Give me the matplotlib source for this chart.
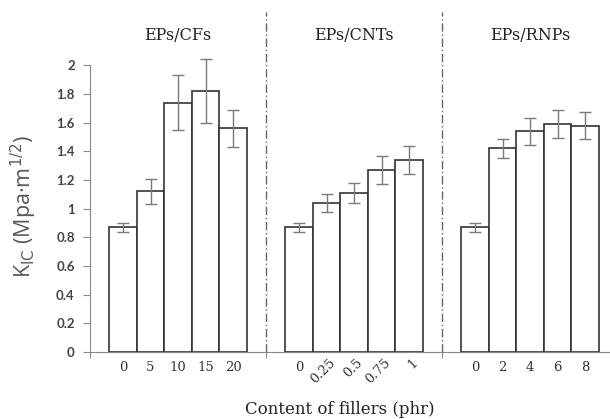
import matplotlib.pyplot as plt

# Data
groups = ["EPs/CFs", "EPs/CNTs", "EPs/RNPs"]
labels = [["0", "5", "10", "15", "20"],
          ["0", "0.25", "0.5", "0.75", "1"],
          ["0", "2", "4", "6", "8"]]
kic = [[0.87, 1.12, 1.74, 1.82, 1.56],
       [0.87, 1.04, 1.11, 1.27, 1.34],
       [0.87, 1.42, 1.54, 1.59, 1.58]]
err = [[0.03, 0.09, 0.19, 0.225, 0.13],
       [0.03, 0.065, 0.07, 0.10, 0.10],
       [0.03, 0.065, 0.095, 0.10, 0.095]]

SPAN = 6.4
GRAY = "#595959"
SERIF = "DejaVu Serif"

fig = plt.figure(figsize=(6.1, 4.19), dpi=100)
ax = fig.add_axes([90 / 610, 67 / 419, 520 / 610, 344 / 419])

for g in range(len(groups)):
    c = SPAN / 2 + SPAN * g
    xs = [c + i - 2 for i in range(len(kic[g]))]
    ax.bar(xs, kic[g], width=1.0, color="white", edgecolor="#333333",
           linewidth=1.2, zorder=2)
    ax.errorbar(xs, kic[g], yerr=err[g], fmt="none", ecolor="#7a7a7a",
                elinewidth=1.0, capsize=4, capthick=1.0, zorder=3)
    ax.text(c, 2.21, groups[g], ha="center", va="center",
            fontsize=11.5, family=SERIF, color="#222222")
    for x, lab in zip(xs, labels[g]):
        if g == 1 and lab != "0":
            ax.text(x + 0.25, -0.06, lab, ha="right", va="center",
                    rotation=45, rotation_mode="anchor", fontsize=9.5,
                    family=SERIF, color="#333333")
        else:
            ax.text(x, -0.11, lab, ha="center", va="center",
                    fontsize=9.5, family=SERIF, color="#333333")
    if g > 0:
        ax.plot([SPAN * g, SPAN * g], [0, 2.37], color="#666666",
                linestyle=(0, (6, 2, 1, 2)), linewidth=1.0, zorder=1)

ax.set_xlim(0, 520 / 27.5)
ax.set_ylim(0, 2.4)
ax.set_xticks([0, SPAN, 2 * SPAN])
ax.set_xticklabels([])
ax.set_yticks([0, 0.2, 0.4, 0.6, 0.8, 1, 1.2, 1.4, 1.6, 1.8, 2])
ax.set_yticklabels(["0", "0.2", "0.4", "0.6", "0.8", "1", "1.2", "1.4",
                    "1.6", "1.8", "2"])
ax.tick_params(axis="y", length=5, color="#888888", labelcolor="#444444",
               labelsize=9.5, pad=6)
ax.tick_params(axis="x", length=4, color="#888888", direction="out")
for lab in ax.get_yticklabels():
    lab.set_fontfamily("Lato")
    lab.set_fontweight("bold")

for s in ["top", "right"]:
    ax.spines[s].set_visible(False)
ax.spines["left"].set_bounds(0, 2)
ax.spines["left"].set_color("#888888")
ax.spines["bottom"].set_color("#888888")

fig.text(24 / 610, 1 - 207 / 419, "K$_{\\rm IC}$ (Mpa·m$^{1/2}$)",
         rotation=90, ha="center", va="center", fontsize=15.5, color=GRAY,
         family="Open Sans")
fig.text(340 / 610, 1 - 409 / 419, "Content of fillers (phr)",
         ha="center", va="center", fontsize=12, family=SERIF,
         color="#222222")

fig.savefig("out.png", dpi=100)
